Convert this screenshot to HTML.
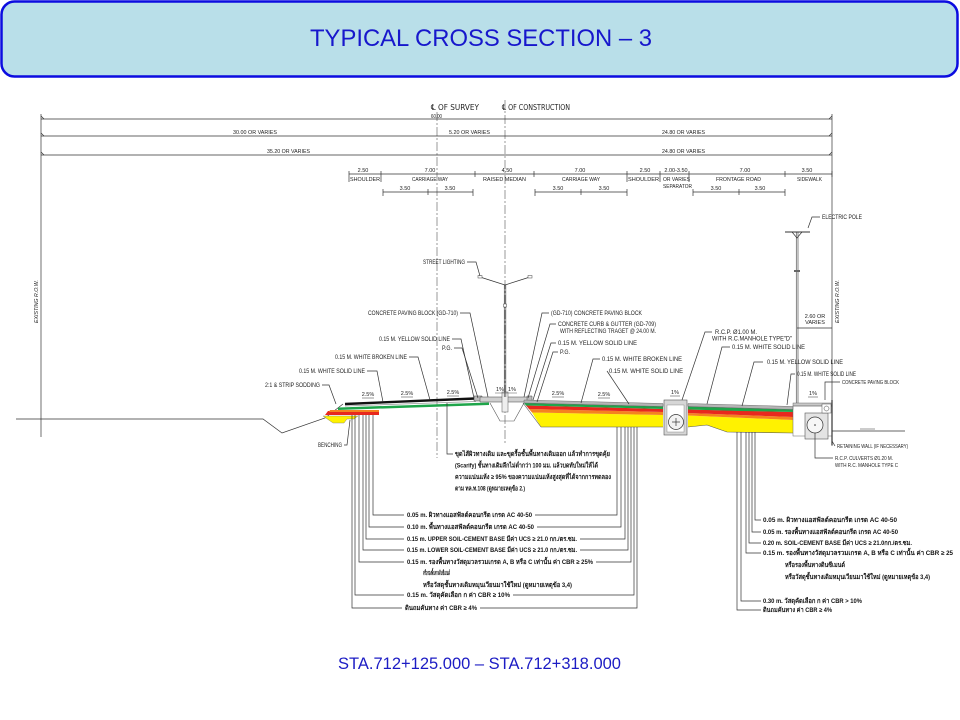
<!DOCTYPE html>
<html><head><meta charset="utf-8"><style>
html,body{margin:0;padding:0;background:#fff;}
svg{display:block;}
.t{font-family:"Liberation Sans Narrow","Liberation Sans",sans-serif;font-size:6.5px;fill:#222;}
.s{font-family:"Liberation Sans Narrow","Liberation Sans",sans-serif;font-size:5.5px;fill:#222;}
.th{font-family:"Liberation Sans","Noto Sans CJK SC",sans-serif;font-size:6.5px;fill:#111;font-weight:bold;}
.l{stroke:#333;stroke-width:0.7;fill:none;}
.lt{stroke:#555;stroke-width:0.6;fill:none;}
</style></head><body>
<svg width="960" height="720" viewBox="0 0 960 720" xmlns="http://www.w3.org/2000/svg">
<rect x="0" y="0" width="960" height="720" fill="#fff"/>
<!-- header -->
<rect x="1.5" y="1.5" width="956" height="75" rx="13" fill="#b9dfe9" stroke="#0c0ce0" stroke-width="2.5"/>
<text x="310" y="46" textLength="342" lengthAdjust="spacingAndGlyphs" style="font-family:'Liberation Sans Narrow','Liberation Sans',sans-serif;font-size:24px;fill:#1717cc;">TYPICAL CROSS SECTION – 3</text>
<!-- footer -->
<text x="338" y="669" textLength="283" lengthAdjust="spacingAndGlyphs" style="font-family:'Liberation Sans',sans-serif;font-size:16.5px;fill:#1c1cc4;">STA.712+125.000 – STA.712+318.000</text>

<!-- centerlines -->
<line x1="437" y1="112" x2="437" y2="458" class="lt" stroke-dasharray="9 2 2 2"/>
<line x1="505" y1="100" x2="505" y2="445" class="lt" stroke-dasharray="9 2 2 2"/>
<text x="431" y="110" textLength="48" lengthAdjust="spacingAndGlyphs" style="font-family:'DejaVu Sans','Liberation Sans',sans-serif;font-size:8px;fill:#222;">℄ OF SURVEY</text>
<text x="502" y="110" textLength="68" lengthAdjust="spacingAndGlyphs" style="font-family:'DejaVu Sans','Liberation Sans',sans-serif;font-size:8px;fill:#222;">℄ OF CONSTRUCTION</text>
<text x="431" y="118" class="s" textLength="11" lengthAdjust="spacingAndGlyphs">60.00</text>

<!-- main dimension lines -->
<g class="l">
<line x1="41" y1="119" x2="832" y2="119"/>
<line x1="41" y1="136" x2="832" y2="136"/>
<line x1="41" y1="155" x2="832" y2="155"/>
<line x1="41" y1="114" x2="41" y2="437"/>
<line x1="832" y1="114" x2="832" y2="446"/>
<line x1="41" y1="116" x2="44" y2="119"/><line x1="41" y1="133" x2="44" y2="136"/><line x1="41" y1="152" x2="44" y2="155"/>
<line x1="832" y1="116" x2="829" y2="119"/><line x1="832" y1="133" x2="829" y2="136"/><line x1="832" y1="152" x2="829" y2="155"/>
</g>
<text x="233" y="134" class="s" textLength="44" lengthAdjust="spacingAndGlyphs">30.00 OR VARIES</text>
<text x="449" y="134" class="s" textLength="41" lengthAdjust="spacingAndGlyphs">5.20 OR VARIES</text>
<text x="662" y="134" class="s" textLength="43" lengthAdjust="spacingAndGlyphs">24.80 OR VARIES</text>
<text x="267" y="153" class="s" textLength="43" lengthAdjust="spacingAndGlyphs">35.20 OR VARIES</text>
<text x="662" y="153" class="s" textLength="43" lengthAdjust="spacingAndGlyphs">24.80 OR VARIES</text>

<!-- sub dims -->
<g class="l">
<line x1="349" y1="174" x2="832" y2="174"/>
<line x1="349" y1="171" x2="349" y2="182"/>
<line x1="381" y1="171" x2="381" y2="182"/>
<line x1="475" y1="171" x2="475" y2="177"/>
<line x1="534" y1="171" x2="534" y2="177"/>
<line x1="627" y1="171" x2="627" y2="182"/>
<line x1="660" y1="171" x2="660" y2="182"/>
<line x1="689" y1="171" x2="689" y2="182"/>
<line x1="785" y1="171" x2="785" y2="177"/>
<line x1="832" y1="171" x2="832" y2="177"/>
<line x1="383" y1="192" x2="473" y2="192"/>
<line x1="383" y1="189" x2="383" y2="196"/><line x1="428" y1="189" x2="428" y2="195"/><line x1="473" y1="189" x2="473" y2="196"/>
<line x1="535" y1="192" x2="627" y2="192"/>
<line x1="535" y1="189" x2="535" y2="196"/><line x1="581" y1="189" x2="581" y2="195"/><line x1="627" y1="189" x2="627" y2="196"/>
<line x1="693" y1="192" x2="785" y2="192"/>
<line x1="693" y1="189" x2="693" y2="196"/><line x1="739" y1="189" x2="739" y2="195"/><line x1="785" y1="189" x2="785" y2="196"/>
</g>
<g class="s" text-anchor="middle">
<text x="363" y="172">2.50</text><text x="430" y="172">7.00</text><text x="507" y="172">4.50</text>
<text x="580" y="172">7.00</text><text x="645" y="172">2.50</text><text x="676" y="172">2.00-3.50</text>
<text x="745" y="172">7.00</text><text x="807" y="172">3.50</text>
<text x="405" y="190">3.50</text><text x="450" y="190">3.50</text><text x="558" y="190">3.50</text>
<text x="604" y="190">3.50</text><text x="716" y="190">3.50</text><text x="760" y="190">3.50</text>
</g>
<text x="350" y="181" class="s" textLength="30" lengthAdjust="spacingAndGlyphs">SHOULDER</text>
<text x="412" y="181" class="s" textLength="36" lengthAdjust="spacingAndGlyphs">CARRIAGE WAY</text>
<text x="483" y="181" class="s" textLength="43" lengthAdjust="spacingAndGlyphs">RAISED MEDIAN</text>
<text x="562" y="181" class="s" textLength="38" lengthAdjust="spacingAndGlyphs">CARRIAGE WAY</text>
<text x="628" y="181" class="s" textLength="31" lengthAdjust="spacingAndGlyphs">SHOULDER</text>
<text x="663" y="181" class="s" textLength="27" lengthAdjust="spacingAndGlyphs">OR VARIES</text>
<text x="663" y="188" class="s" textLength="29" lengthAdjust="spacingAndGlyphs">SEPARATOR</text>
<text x="716" y="181" class="s" textLength="45" lengthAdjust="spacingAndGlyphs">FRONTAGE ROAD</text>
<text x="797" y="181" class="s" textLength="25" lengthAdjust="spacingAndGlyphs">SIDEWALK</text>

<!-- existing ROW text -->
<text class="s" transform="translate(38,323) rotate(-90)" textLength="43" lengthAdjust="spacingAndGlyphs" font-style="italic">EXISTING R.O.W.</text>
<text class="s" transform="translate(839,323) rotate(-90)" textLength="43" lengthAdjust="spacingAndGlyphs" font-style="italic">EXISTING R.O.W.</text>

<!-- ground & ditch left -->
<polyline class="l" points="16,419 263,419 282,433 325,418 343,404"/>
<!-- left pavement -->
<polygon points="328,411 379,411 379,415 325,415" fill="#e8281e"/>
<polygon points="330,410 379,410 379,412 329,412" fill="#f5821f"/>
<polygon points="323,416 358,416 354,419 347,419 344,423 333,423" fill="#fff200" stroke="#777" stroke-width="0.4"/>
<polygon points="338,407.5 489,402.5 489,405 338,410" fill="#1ea54a"/>
<line x1="345" y1="406" x2="476" y2="401.5" stroke="#999" stroke-width="0.8"/>
<line x1="345" y1="404" x2="475" y2="398.5" stroke="#111" stroke-width="2.4"/>

<!-- median -->
<polygon points="474,396 482,396 482,401 474,401" fill="#bbb" stroke="#444" stroke-width="0.5"/>
<polygon points="480,397 528,397 528,402 480,402" fill="#cfcfcf" stroke="#444" stroke-width="0.5"/>
<polygon points="527,396 532,396 532,401 527,401" fill="#bbb" stroke="#444" stroke-width="0.5"/>
<polyline class="lt" points="490,403 500,421 514,421 524,403"/>
<rect x="502" y="392" width="6" height="20" fill="#eee" stroke="#555" stroke-width="0.5"/>
<!-- street light -->
<line x1="504.3" y1="285" x2="504.3" y2="397" stroke="#555" stroke-width="0.7"/>
<line x1="505.8" y1="285" x2="505.8" y2="397" stroke="#555" stroke-width="0.7"/>
<polyline class="l" points="480,277 505,285 530,277"/>
<rect x="478" y="275.5" width="4" height="2.5" fill="#fff" stroke="#444" stroke-width="0.5"/>
<rect x="528" y="275.5" width="4" height="2.5" fill="#fff" stroke="#444" stroke-width="0.5"/>
<rect x="503.5" y="304" width="3" height="3" fill="#fff" stroke="#444" stroke-width="0.5"/>

<!-- right carriageway -->
<polygon points="532,412.5 663,415 663,427 541,427" fill="#fff200"/>
<polygon points="529,409 663,412 663,415 532,412.5" fill="#f5821f"/>
<polygon points="526,405.5 663,409 663,412 529,409" fill="#e8281e"/>
<polygon points="524,403 663,406.5 663,409 526,405.5" fill="#1ea54a"/>
<polygon points="524,400 663,403.5 663,406.5 524,403" fill="#b5b5b5" stroke="#555" stroke-width="0.4"/>
<line x1="523" y1="403" x2="541" y2="427" class="lt"/>
<line x1="541" y1="427" x2="663" y2="427" class="lt"/>
<!-- manhole 1 -->
<rect x="664" y="400" width="23" height="35" fill="#d6d6d6" stroke="#555" stroke-width="0.6"/>
<rect x="667" y="405" width="17" height="27" fill="#fff" stroke="#777" stroke-width="0.4"/>
<circle cx="676" cy="422" r="7.5" fill="#f2f2f2" stroke="#333" stroke-width="0.7"/>
<line x1="672" y1="422" x2="680" y2="422" class="l"/><line x1="676" y1="418" x2="676" y2="426" class="l"/>

<!-- frontage road -->
<polygon points="688,415.5 793,420 793,433 727,432 707,425 688,427" fill="#fff200"/>
<polygon points="688,413 793,417 793,420 688,415.5" fill="#f5821f"/>
<polygon points="688,409.5 793,412 793,417 688,413" fill="#e8281e"/>
<polygon points="688,406.5 740,408 793,409.5 793,412 740,411 688,409.5" fill="#1ea54a"/>
<polygon points="688,403.5 793,406.5 793,409.5 688,406.5" fill="#b5b5b5" stroke="#555" stroke-width="0.4"/>
<polyline class="lt" points="688,427 707,425 727,432 793,433"/>

<!-- sidewalk structure -->
<rect x="793" y="403" width="39" height="3" fill="#c8c8c8" stroke="#555" stroke-width="0.4"/>
<rect x="793" y="406" width="39" height="30" fill="none" stroke="#666" stroke-width="0.5"/>
<rect x="805" y="413" width="23" height="26" fill="#e4e4e4" stroke="#555" stroke-width="0.6"/>
<circle cx="815" cy="425" r="8" fill="#f7f7f7" stroke="#333" stroke-width="0.7"/>
<circle cx="815" cy="425" r="0.8" fill="#333"/>
<rect x="822" y="404" width="9" height="9" fill="#fff" stroke="#555" stroke-width="0.5"/>
<circle cx="826.5" cy="408.5" r="2.5" fill="none" stroke="#444" stroke-width="0.5"/>
<line x1="832" y1="400" x2="832" y2="445" stroke="#333" stroke-width="1.2"/>
<line x1="832" y1="431" x2="905" y2="431" class="l"/>
<line x1="860" y1="429" x2="875" y2="429" class="lt"/>

<!-- electric pole -->
<line x1="796.3" y1="232" x2="796.3" y2="403" stroke="#555" stroke-width="0.7"/>
<line x1="798" y1="232" x2="798" y2="403" stroke="#555" stroke-width="0.7"/>
<line x1="785" y1="232" x2="810" y2="232" stroke="#333" stroke-width="1"/>
<polyline class="l" points="792,232 797,238 802,232"/>
<rect x="794" y="270" width="6" height="2" fill="#666"/>
<line x1="797" y1="328" x2="832" y2="328" class="l"/>
<text x="815" y="318" class="s" text-anchor="middle">2.60 OR</text>
<text x="815" y="324" class="s" text-anchor="middle">VARIES</text>
<text x="822" y="219" class="t" textLength="40" lengthAdjust="spacingAndGlyphs">ELECTRIC POLE</text>
<polyline class="l" points="820,217 812,217 808,228"/>

<!-- percent labels -->
<g class="s" text-anchor="middle">
<text x="368" y="396">2.5%</text><text x="407" y="395">2.5%</text><text x="453" y="394">2.5%</text>
<text x="500" y="391">1%</text><text x="512" y="391">1%</text>
<text x="558" y="395">2.5%</text><text x="604" y="396">2.5%</text>
<text x="675" y="394">1%</text><text x="813" y="395">1%</text>
</g>
<g class="lt">
<line x1="362" y1="398" x2="374" y2="398"/><line x1="401" y1="397" x2="413" y2="397"/><line x1="447" y1="396" x2="459" y2="396"/>
<line x1="495" y1="393" x2="517" y2="393"/>
<line x1="552" y1="397" x2="564" y2="397"/><line x1="598" y1="398" x2="610" y2="398"/>
<line x1="670" y1="396" x2="680" y2="396"/><line x1="808" y1="397" x2="818" y2="397"/>
</g>

<!-- left leaders/labels -->
<text x="423" y="264" class="t" textLength="42" lengthAdjust="spacingAndGlyphs">STREET LIGHTING</text>
<polyline class="l" points="467,262 476,262 480,276"/>
<text x="368" y="315" class="t" textLength="90" lengthAdjust="spacingAndGlyphs">CONCRETE PAVING BLOCK (GD-710)</text>
<polyline class="l" points="460,313 470,313 488,397"/>
<text x="379" y="341" class="t" textLength="71" lengthAdjust="spacingAndGlyphs">0.15 M. YELLOW SOLID LINE</text>
<polyline class="l" points="452,339 461,339 474,398"/>
<text x="442" y="350" class="t" textLength="10" lengthAdjust="spacingAndGlyphs">P.G.</text>
<polyline class="l" points="454,348 462,348 478,398"/>
<text x="335" y="359" class="t" textLength="72" lengthAdjust="spacingAndGlyphs">0.15 M. WHITE BROKEN LINE</text>
<polyline class="l" points="409,357 418,357 430,400"/>
<text x="299" y="373" class="t" textLength="66" lengthAdjust="spacingAndGlyphs">0.15 M. WHITE SOLID LINE</text>
<polyline class="l" points="367,371 377,371 383,402"/>
<text x="265" y="387" class="t" textLength="55" lengthAdjust="spacingAndGlyphs">2:1 &amp; STRIP SODDING</text>
<polyline class="l" points="322,385 329,385 336,404"/>
<text x="318" y="447" class="t" textLength="24" lengthAdjust="spacingAndGlyphs">BENCHING</text>
<polyline class="l" points="344,445 347,445 350,420"/>

<!-- right leaders/labels -->
<text x="551" y="315" class="t" textLength="91" lengthAdjust="spacingAndGlyphs">(GD-710) CONCRETE PAVING BLOCK</text>
<polyline class="l" points="549,313 542,313 524,397"/>
<text x="558" y="326" class="t" textLength="98" lengthAdjust="spacingAndGlyphs">CONCRETE CURB &amp; GUTTER (GD-709)</text>
<text x="560" y="333" class="t" textLength="96" lengthAdjust="spacingAndGlyphs">WITH REFLECTING TRAGET @ 24.00 M.</text>
<polyline class="l" points="556,324 550,324 528,398"/>
<text x="558" y="345" class="t" textLength="79" lengthAdjust="spacingAndGlyphs">0.15 M. YELLOW SOLID LINE</text>
<polyline class="l" points="556,343 551,343 533,400"/>
<text x="560" y="354" class="t" textLength="10" lengthAdjust="spacingAndGlyphs">P.G.</text>
<polyline class="l" points="558,352 553,352 537,402"/>
<text x="602" y="361" class="t" textLength="80" lengthAdjust="spacingAndGlyphs">0.15 M. WHITE BROKEN LINE</text>
<polyline class="l" points="600,359 593,359 581,403"/>
<text x="609" y="373" class="t" textLength="74" lengthAdjust="spacingAndGlyphs">0.15 M. WHITE SOLID LINE</text>
<polyline class="l" points="607,371 629,404"/>
<text x="715" y="334" class="t" textLength="42" lengthAdjust="spacingAndGlyphs">R.C.P. Ø1.00 M.</text>
<text x="712" y="340.5" class="t" textLength="80" lengthAdjust="spacingAndGlyphs">WITH R.C.MANHOLE TYPE"D"</text>
<polyline class="l" points="712,332 705,332 682,400"/>
<text x="732" y="349" class="t" textLength="73" lengthAdjust="spacingAndGlyphs">0.15 M. WHITE SOLID LINE</text>
<polyline class="l" points="730,347 722,347 707,404"/>
<text x="767" y="364" class="t" textLength="76" lengthAdjust="spacingAndGlyphs">0.15 M. YELLOW SOLID LINE</text>
<polyline class="l" points="763,362 754,362 742,406"/>
<text x="797" y="376" class="t" textLength="59" lengthAdjust="spacingAndGlyphs">0.15 M. WHITE SOLID LINE</text>
<polyline class="l" points="795,374 791,374 787,405"/>
<text x="842" y="384" class="s" textLength="57" lengthAdjust="spacingAndGlyphs">CONCRETE PAVING BLOCK</text>
<polyline class="l" points="840,382 825,382 825,400"/>
<text x="837" y="448" class="s" textLength="71" lengthAdjust="spacingAndGlyphs">RETAINING WALL (IF NECESSARY)</text>
<polyline class="l" points="835,446 832,441"/>
<text x="835" y="460" class="s" textLength="58" lengthAdjust="spacingAndGlyphs">R.C.P. CULVERTS Ø1.20 M.</text>
<text x="835" y="467" class="s" textLength="63" lengthAdjust="spacingAndGlyphs">WITH R.C. MANHOLE TYPE C</text>
<polyline class="l" points="833,458 815,458 815,433"/>

<!-- Thai note center -->
<polyline class="l" points="447,403 447,454 453,454"/>
<text x="455" y="456" class="th" textLength="155" lengthAdjust="spacingAndGlyphs">ขุดไส้ผิวทางเดิม และขุดรื้อชั้นพื้นทางเดิมออก แล้วทำการขุดคุ้ย</text>
<text x="455" y="467.5" class="th" textLength="143" lengthAdjust="spacingAndGlyphs">(Scarify) ชั้นทางเดิมลึกไม่ต่ำกว่า 100 มม. แล้วบดทับใหม่ให้ได้</text>
<text x="455" y="479" class="th" textLength="156" lengthAdjust="spacingAndGlyphs">ความแน่นแห้ง ≥ 95% ของความแน่นแห้งสูงสุดที่ได้จากการทดลอง</text>
<text x="455" y="490.5" class="th" textLength="70" lengthAdjust="spacingAndGlyphs">ตาม ทล.ท.108 (ดูหมายเหตุข้อ 2.)</text>

<!-- left layer notes -->
<g class="l">
<polyline points="373,415 373,515 404,515"/><polyline points="535,515 617,515 617,427"/>
<polyline points="369,415 369,527 404,527"/><polyline points="537,527 621,527 621,427"/>
<polyline points="366,415 366,539 404,539"/><polyline points="580,539 625,539 625,427"/>
<polyline points="363,415 363,550 404,550"/><polyline points="580,550 628,550 628,427"/>
<polyline points="359,415 359,562 404,562"/><polyline points="596,562 631,562 631,427"/>
<polyline points="355,415 355,595 404,595"/><polyline points="513,595 634,595 634,427"/>
<polyline points="352,415 352,608 402,608"/><polyline points="480,608 637,608 637,427"/>
</g>
<text x="407" y="517" class="th" textLength="125" lengthAdjust="spacingAndGlyphs">0.05 m. ผิวทางแอสฟัลต์คอนกรีต เกรด AC 40-50</text>
<text x="407" y="529" class="th" textLength="127" lengthAdjust="spacingAndGlyphs">0.10 m. พื้นทางแอสฟัลต์คอนกรีต เกรด AC 40-50</text>
<text x="407" y="541" class="th" textLength="170" lengthAdjust="spacingAndGlyphs">0.15 m. UPPER SOIL-CEMENT BASE มีค่า UCS ≥ 21.0 กก./ตร.ซม.</text>
<text x="407" y="552" class="th" textLength="170" lengthAdjust="spacingAndGlyphs">0.15 m. LOWER SOIL-CEMENT BASE มีค่า UCS ≥ 21.0 กก./ตร.ซม.</text>
<text x="407" y="564" class="th" textLength="186" lengthAdjust="spacingAndGlyphs">0.15 m. รองพื้นทางวัสดุมวลรวมเกรด A, B หรือ C เท่านั้น ค่า CBR ≥ 25%</text>
<text x="423" y="575" class="th" textLength="27" lengthAdjust="spacingAndGlyphs">หรือรองพื้นทางดินซีเมนต์</text>
<text x="423" y="587" class="th" textLength="149" lengthAdjust="spacingAndGlyphs">หรือวัสดุชั้นทางเดิมหมุนเวียนมาใช้ใหม่ (ดูหมายเหตุข้อ 3,4)</text>
<text x="407" y="597" class="th" textLength="103" lengthAdjust="spacingAndGlyphs">0.15 m. วัสดุคัดเลือก ก ค่า CBR ≥ 10%</text>
<text x="405" y="610" class="th" textLength="72" lengthAdjust="spacingAndGlyphs">ดินถมคันทาง ค่า CBR ≥ 4%</text>

<!-- right layer notes -->
<g class="l">
<polyline points="755,432 755,520 761,520"/>
<polyline points="752,432 752,532 761,532"/>
<polyline points="749,432 749,543 761,543"/>
<polyline points="746,432 746,553 761,553"/>
<polyline points="741,432 741,601 761,601"/>
<polyline points="737,432 737,610 761,610"/>
</g>
<text x="763" y="522" class="th" textLength="134" lengthAdjust="spacingAndGlyphs">0.05 m. ผิวทางแอสฟัลต์คอนกรีต เกรด AC 40-50</text>
<text x="763" y="534" class="th" textLength="135" lengthAdjust="spacingAndGlyphs">0.05 m. รองพื้นทางแอสฟัลต์คอนกรีต เกรด AC 40-50</text>
<text x="763" y="545" class="th" textLength="149" lengthAdjust="spacingAndGlyphs">0.20 m. SOIL-CEMENT BASE มีค่า UCS ≥ 21.0กก./ตร.ซม.</text>
<text x="763" y="555" class="th" textLength="190" lengthAdjust="spacingAndGlyphs">0.15 m. รองพื้นทางวัสดุมวลรวมเกรด A, B หรือ C เท่านั้น ค่า CBR ≥ 25</text>
<text x="785" y="567" class="th" textLength="60" lengthAdjust="spacingAndGlyphs">หรือรองพื้นทางดินซีเมนต์</text>
<text x="785" y="579" class="th" textLength="145" lengthAdjust="spacingAndGlyphs">หรือวัสดุชั้นทางเดิมหมุนเวียนมาใช้ใหม่ (ดูหมายเหตุข้อ 3,4)</text>
<text x="763" y="603" class="th" textLength="99" lengthAdjust="spacingAndGlyphs">0.30 m. วัสดุคัดเลือก ก ค่า CBR &gt; 10%</text>
<text x="763" y="612" class="th" textLength="69" lengthAdjust="spacingAndGlyphs">ดินถมคันทาง ค่า CBR ≥ 4%</text>
</svg>
</body></html>
